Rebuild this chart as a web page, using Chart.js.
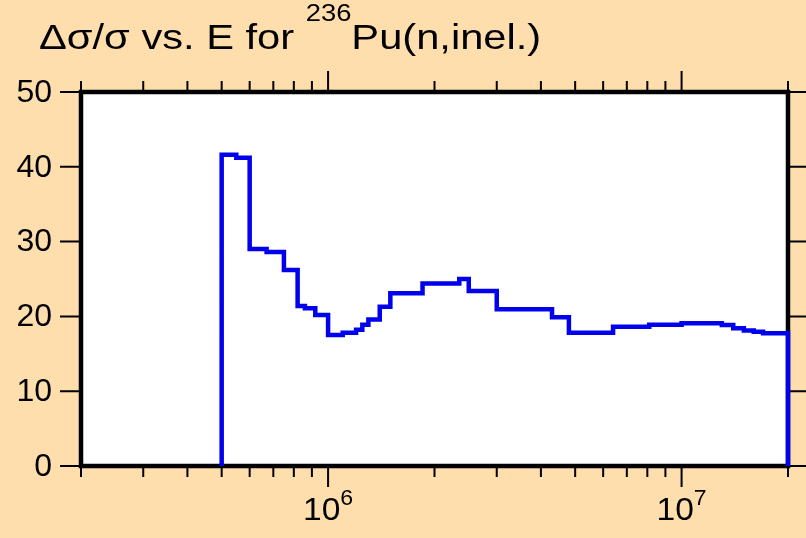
<!DOCTYPE html>
<html>
<head>
<meta charset="utf-8">
<script src="https://cdn.jsdelivr.net/npm/chart.js@4/dist/chart.umd.min.js"></script>
<style>
  html, body { margin: 0; padding: 0; background: #FFDEAD; }
  canvas { display: block; }
</style>
</head>
<body>
<canvas id="uncChart" width="806" height="538"></canvas>
<script>
// bin edges (eV) and relative uncertainty (%) for each bin
var binEdges = [5e5, 5.5e5, 6e5, 6.7e5, 7.5e5, 8.2e5, 8.6e5, 9.2e5, 1e6, 1.1e6,
    1.2e6, 1.25e6, 1.3e6, 1.4e6, 1.5e6, 1.85e6, 2.35e6, 2.5e6, 3e6, 4.3e6,
    4.8e6, 6.4e6, 8.1e6, 1e7, 1.3e7, 1.4e7, 1.5e7, 1.6e7, 1.7e7, 2e7];
var relUnc = [41.6, 41.2, 29.0, 28.6, 26.2, 21.4, 21.1, 20.2, 17.5, 17.8,
    18.2, 18.9, 19.6, 21.3, 23.1, 24.4, 25.0, 23.4, 20.95, 19.9,
    17.8, 18.6, 18.9, 19.1, 18.85, 18.4, 18.1, 17.96, 17.74];
var yTicks = [0, 10, 20, 30, 40, 50];
var xTicks = [2e5, 3e5, 4e5, 5e5, 6e5, 7e5, 8e5, 9e5, 1e6,
    2e6, 3e6, 4e6, 5e6, 6e6, 7e6, 8e6, 9e6, 1e7, 2e7];
var xMajor = [1e6, 1e7];

var pts = [{x: binEdges[0], y: 0}];
for (var i = 0; i < relUnc.length; i++) {
    pts.push({x: binEdges[i], y: relUnc[i]});
}
pts.push({x: binEdges[binEdges.length - 1], y: relUnc[relUnc.length - 1]});
pts.push({x: binEdges[binEdges.length - 1], y: 0});

var FONT = 'Liberation Sans, Arial, sans-serif';

// text drawn a bit wider than Arial, like the original plot
function wideText(c, txt, x, y, size, sx) {
    c.save();
    c.font = size + 'px ' + FONT;
    c.translate(x, y);
    c.scale(sx, 1);
    c.fillText(txt, 0, 0);
    var w = c.measureText(txt).width * sx;
    c.restore();
    return w;
}

var frame = {
    id: 'frame',
    beforeDatasetsDraw: function (chart) {
        var c = chart.ctx, a = chart.chartArea;
        var xs = chart.scales.x, ys = chart.scales.y;
        c.save();
        c.fillStyle = '#ffffff';
        c.fillRect(a.left, a.top, a.right - a.left, a.bottom - a.top);
        c.strokeStyle = '#000';
        // ticks
        c.lineWidth = 2;
        xTicks.forEach(function (v) {
            var px = xs.getPixelForValue(v);
            var len = xMajor.indexOf(v) >= 0 ? 21 : 11;
            c.beginPath();
            c.moveTo(px, a.bottom); c.lineTo(px, a.bottom + len);
            c.moveTo(px, a.top); c.lineTo(px, a.top - len);
            c.stroke();
        });
        yTicks.forEach(function (v) {
            var py = ys.getPixelForValue(v);
            c.beginPath();
            c.moveTo(60, py); c.lineTo(a.left, py);
            c.moveTo(a.right, py); c.lineTo(chart.width, py);
            c.stroke();
        });
        c.lineWidth = 4.5;
        c.strokeRect(a.left, a.top, a.right - a.left, a.bottom - a.top);
        // y labels
        c.fillStyle = '#000';
        c.font = '32px ' + FONT;
        c.textAlign = 'right';
        c.textBaseline = 'middle';
        yTicks.forEach(function (v) {
            c.fillText(String(v), 52, ys.getPixelForValue(v) + 1);
        });
        // x labels 10^n
        c.textBaseline = 'alphabetic';
        c.textAlign = 'left';
        xMajor.forEach(function (v) {
            var px = xs.getPixelForValue(v);
            var exp = String(Math.round(Math.log10(v)));
            c.font = '32px ' + FONT;
            var wb = c.measureText('10').width * 1.05;
            c.font = '22px ' + FONT;
            var we = c.measureText(exp).width * 1.05;
            var x0 = px - (wb + we) / 2;
            wideText(c, '10', x0, 520, 32, 1.05);
            wideText(c, exp, x0 + wb, 505, 22, 1.05);
        });
        // title
        var tx = 39;
        tx += wideText(c, '\u0394\u03c3/\u03c3 vs. E for ', tx, 48.5, 35, 1.19);
        tx += wideText(c, '236', tx, 21, 23, 1.19);
        wideText(c, 'Pu(n,inel.)', tx, 48.5, 35, 1.19);
        c.restore();
    }
};

var ctx = document.getElementById('uncChart').getContext('2d');
var chart = new Chart(ctx, {
    type: 'line',
    data: {
        datasets: [{
            data: pts,
            stepped: 'before',
            borderColor: '#0000ee',
            borderWidth: 4.5,
            pointRadius: 0,
            fill: false,
            clip: false
        }]
    },
    options: {
        responsive: false,
        animation: false,
        layout: {
            padding: {left: 81, right: 18, top: 92, bottom: 72}
        },
        plugins: {
            legend: {display: false},
            tooltip: {enabled: false}
        },
        scales: {
            x: {type: 'logarithmic', min: 2e5, max: 2e7, display: false},
            y: {type: 'linear', min: 0, max: 50, display: false}
        }
    },
    plugins: [frame]
});
</script>
</body>
</html>
